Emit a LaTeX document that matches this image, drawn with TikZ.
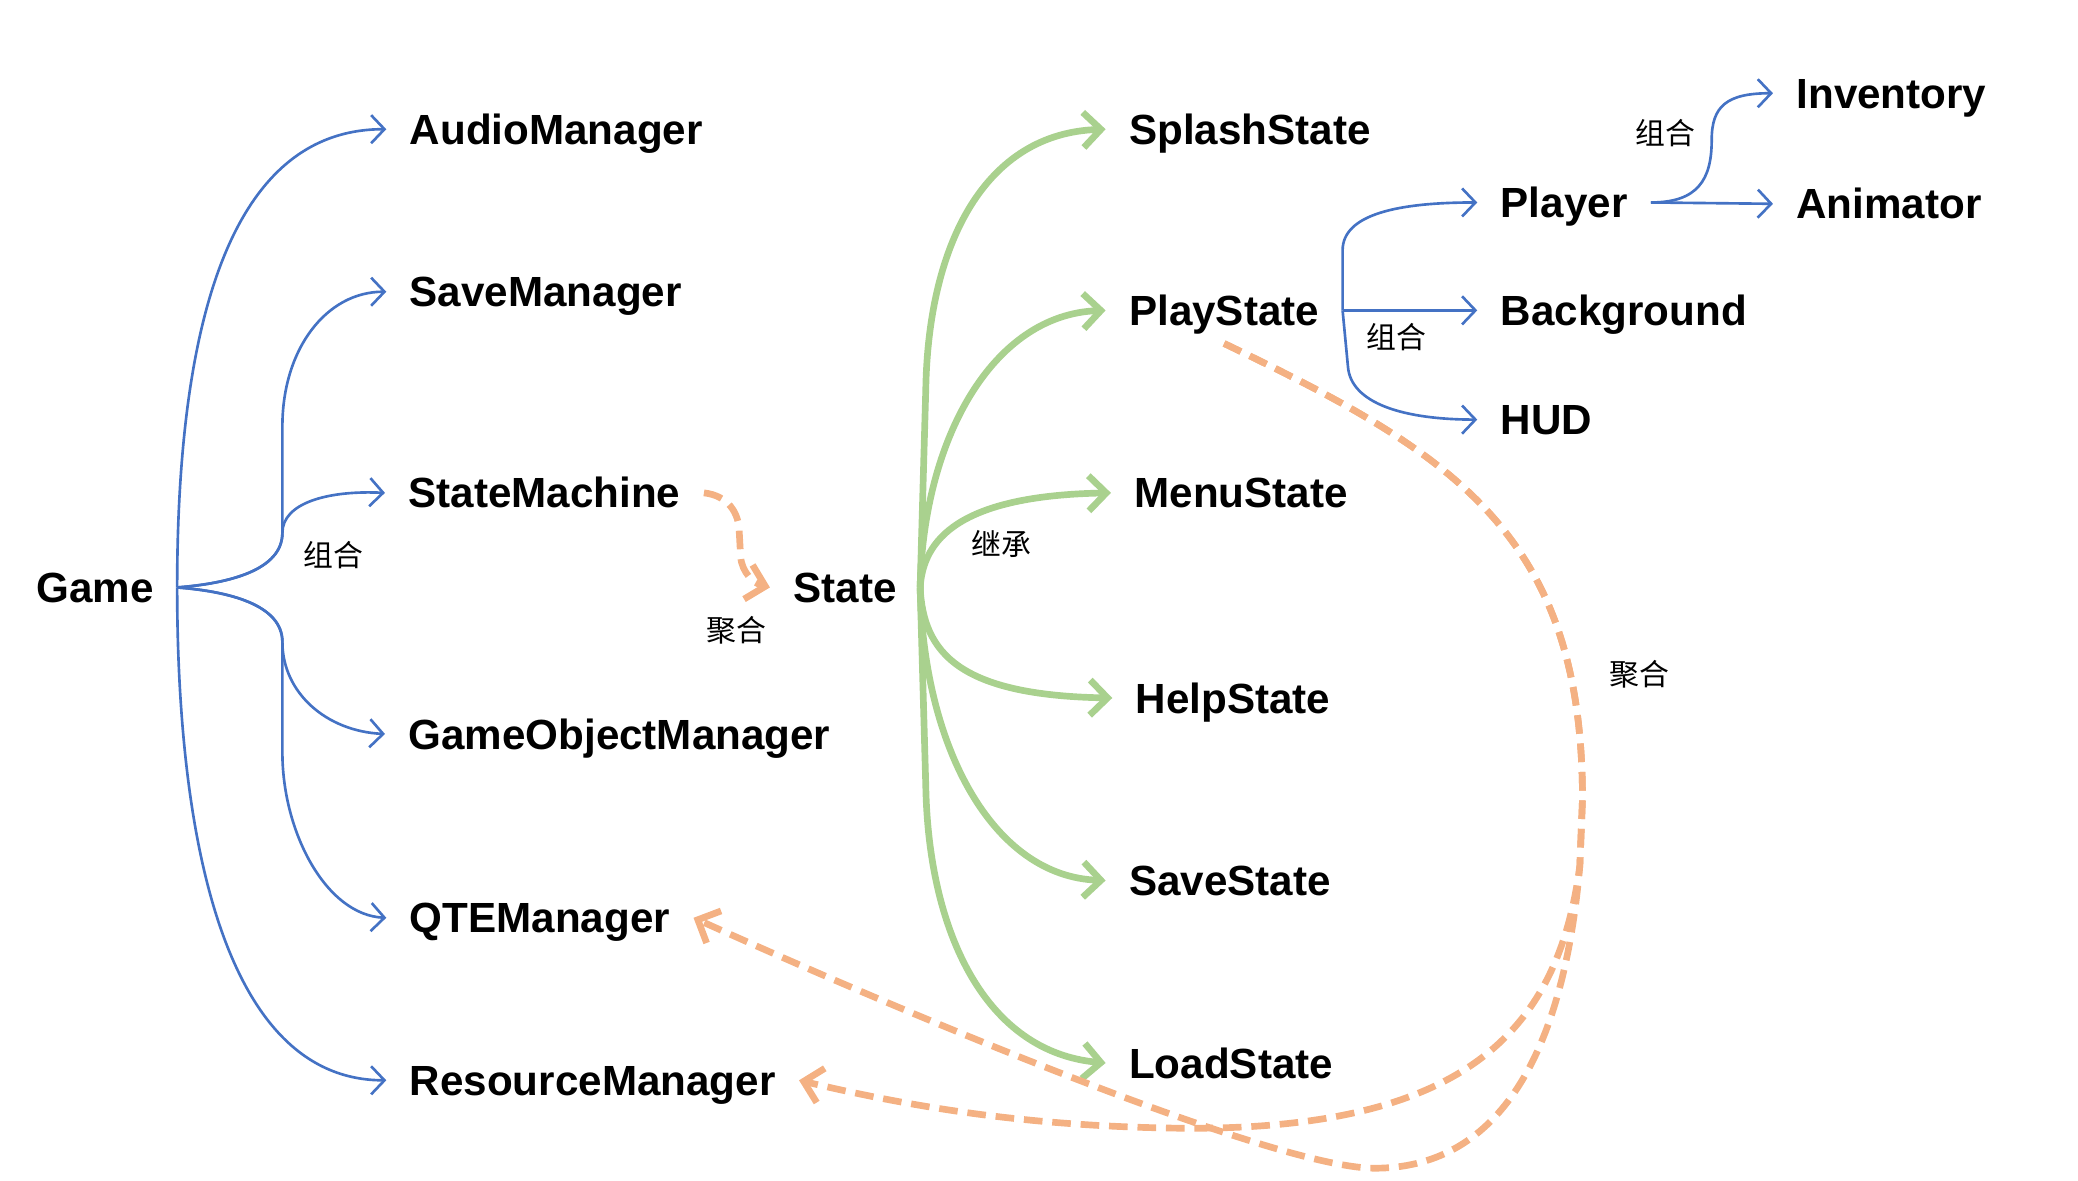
\documentclass[tikz,border=0pt]{standalone}
\usepackage{fontspec}
\setmainfont{Liberation Sans}
\newfontfamily\cjk{Noto Sans CJK SC}
\usetikzlibrary{arrows.meta}
\definecolor{linkblue}{HTML}{4472C4}
\definecolor{linkgreen}{HTML}{A9D18E}
\definecolor{linkorange}{HTML}{F4B183}
\tikzset{
    classbox/.style={font=\bfseries\fontsize{12}{14}\selectfont, inner xsep=6.5pt, inner ysep=0pt,
        text height=8.6pt, text depth=0pt, anchor=west},
    rellabel/.style={font=\cjk\fontsize{8.5}{10}\selectfont, inner sep=0pt},
    composition/.style={draw=linkblue, line width=0.75pt, -{Straight Barb[length=3.8pt,width=8pt]}},
    inherit/.style={draw=linkgreen, line width=1.9pt, -{Straight Barb[length=5pt,width=10pt]}},
    aggregate/.style={draw=linkorange, line width=1.9pt, dash pattern=on 5.3pt off 2.8pt,
        -{Straight Barb[length=5pt,width=10pt]}}
}
\begin{document}
\begin{tikzpicture}[x=0.01332cm, y=-0.01332cm]
    \useasboundingbox (0,0) rectangle (1560,886);
    \node[classbox, anchor=east] (game) at (133,441) {Game};
    \node[classbox] (audio) at (290,97) {AudioManager};
    \node[classbox] (savemgr) at (290,219) {SaveManager};
    \node[classbox] (machine) at (289,370) {StateMachine};
    \node[classbox] (objects) at (289,551) {GameObjectManager};
    \node[classbox] (qte) at (290,689) {QTEManager};
    \node[classbox] (resource) at (290,811) {ResourceManager};
    \node[classbox] (state) at (578,441) {State};
    \node[classbox] (splash) at (830,97) {SplashState};
    \node[classbox] (play) at (830,233) {PlayState};
    \node[classbox] (menu) at (834,370) {MenuState};
    \node[classbox] (help) at (835,524) {HelpState};
    \node[classbox] (savest) at (830,661) {SaveState};
    \node[classbox] (load) at (830,798) {LoadState};
    \node[classbox] (player) at (1109,152) {Player};
    \node[classbox] (background) at (1109,233) {Background};
    \node[classbox] (hud) at (1109,315) {HUD};
    \node[classbox] (inventory) at (1331,70) {Inventory};
    \node[classbox] (animator) at (1331,153) {Animator};

    \node[rellabel] (gamelabel) at (250,417) {组合};
    \node[rellabel] (machinelabel) at (553,473) {聚合};
    \node[rellabel] (statelabel) at (752,408) {继承};
    \node[rellabel] (playlabel) at (1048,253) {组合};
    \node[rellabel] (playerlabel) at (1250,100) {组合};
    \node[rellabel] (qtelabel) at (1231,506) {聚合};

    \draw[composition] (game.east) .. controls (133,250) and (170,97) .. (audio.west);
    \draw[composition] (game.east) .. controls (172,438) and (212,428) .. (212,400) -- (212,320)
        .. controls (212,262) and (245,219) .. (savemgr.west);
    \draw[composition] (game.east) .. controls (172,438) and (212,428) .. (212,400)
        .. controls (212,378) and (245,368) .. (machine.west);
    \draw[composition] (game.east) .. controls (172,444) and (212,454) .. (212,482)
        .. controls (212,520) and (245,549) .. (objects.west);
    \draw[composition] (game.east) .. controls (172,444) and (212,454) .. (212,482) -- (212,565)
        .. controls (212,625) and (245,687) .. (qte.west);
    \draw[composition] (game.east) .. controls (133,640) and (172,811) .. (resource.west);

    \draw[inherit] (state.east) -- (695,292) .. controls (697,182) and (740,100) .. (splash.west);
    \draw[inherit] (state.east) .. controls (693,330) and (745,236) .. (play.west);
    \draw[inherit] (state.east) .. controls (693,405) and (720,372) .. (menu.west);
    \draw[inherit] (state.east) .. controls (693,490) and (720,522) .. (help.west);
    \draw[inherit] (state.east) .. controls (693,560) and (745,658) .. (savest.west);
    \draw[inherit] (state.east) -- (695,590) .. controls (697,700) and (740,790) .. (load.west);

    \draw[composition] (play.east) -- ++(0,-45) .. controls +(0,-27) and +(-60,0) .. (player.west);
    \draw[composition] (play.east) -- (background.west);
    \draw[composition] (play.east) -- ++(4,42) .. controls +(2,28) and +(-55,0) .. (hud.west);
    \draw[composition] (player.east) .. controls +(35,0) and +(0,30) .. (1285,105)
        .. controls +(0,-25) and +(-35,0) .. (inventory.west);
    \draw[composition] (player.east) -- (animator.west);

    \draw[aggregate] (machine.east) .. controls +(18,2) and +(0,-15) .. (555,400) -- (556,418)
        .. controls +(1,12) and +(-12,-3) .. (state.west);
    \draw[aggregate] (play.south) ++(0,13) .. controls (1090,340) and (1188,400) .. (1188,600) -- (1186,650)
        .. controls (1170,770) and (1105,848) .. (890,847) .. controls (770,846) and (680,830) .. (resource.east);
    \draw[aggregate] (play.south) ++(0,13) .. controls (1090,340) and (1188,400) .. (1188,600) -- (1186,650)
        .. controls (1173,800) and (1120,877) .. (1032,877) .. controls (960,877) and (700,770) .. (qte.east);
\end{tikzpicture}
\end{document}
